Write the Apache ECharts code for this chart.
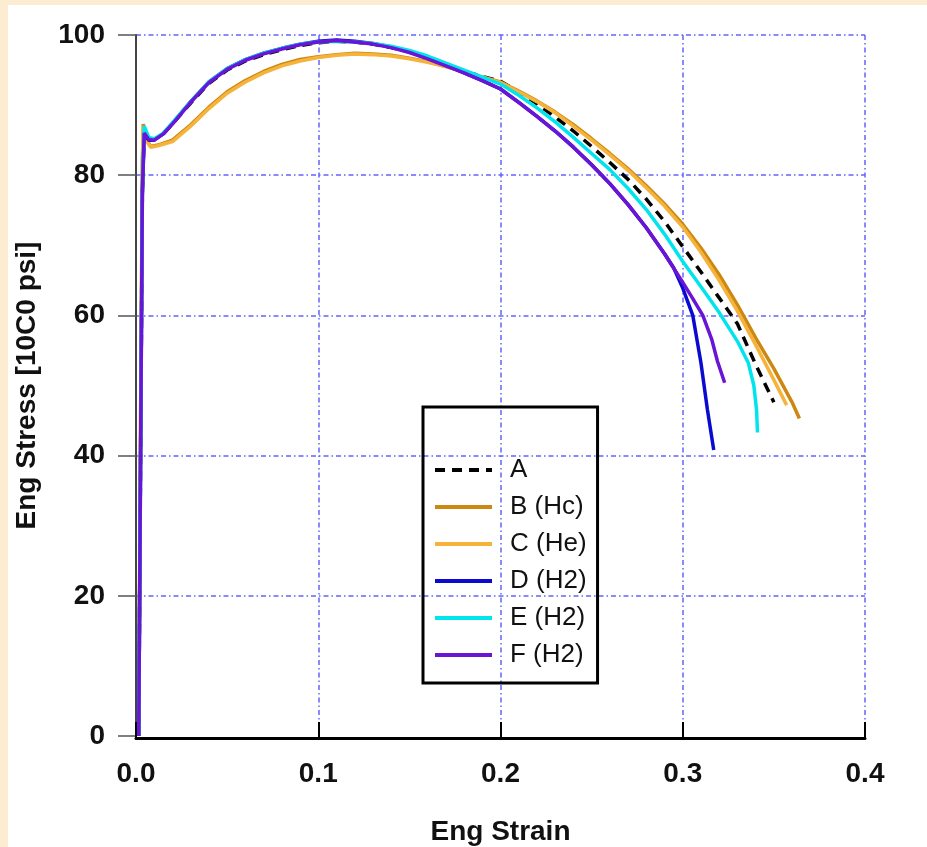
<!DOCTYPE html>
<html>
<head>
<meta charset="utf-8">
<script src="https://cdn.jsdelivr.net/npm/echarts@6/dist/echarts.min.js"></script>
<style>
  html, body { margin: 0; padding: 0; background: #fcecd2; }
  #chart { position: absolute; left: 8px; top: 5px; width: 919px; height: 842px; background: #fff; }
</style>
</head>
<body>
<div id="chart"></div>
<script>
// tick labels / axis range
const xTicks = [0, 0.1, 0.2, 0.3, 0.4];
const yTicks = [0, 20, 40, 60, 80, 100];
const seriesNames = ["A", "B (Hc)", "C (He)", "D (H2)", "E (H2)", "F (H2)"];

// A - dashed black
const strainA = [0.0015, 0.0025, 0.0035, 0.0045, 0.007, 0.010, 0.015, 0.020, 0.030, 0.040, 0.050, 0.060, 0.070, 0.080, 0.090, 0.100, 0.110, 0.120, 0.130, 0.140, 0.150, 0.160, 0.170, 0.180, 0.190, 0.200, 0.210, 0.220, 0.230, 0.240, 0.250, 0.260, 0.270, 0.280, 0.290, 0.300, 0.310, 0.320, 0.330, 0.340, 0.345, 0.350];
const stressA = [0, 40, 78, 86.2, 85.2, 85.1, 85.9, 87.3, 90.3, 93.1, 95.0, 96.3, 97.2, 97.9, 98.5, 98.9, 99.1, 99.0, 98.7, 98.2, 97.6, 96.7, 95.7, 94.8, 94.1, 93.4, 91.9, 90.2, 88.3, 86.3, 84.1, 81.8, 79.4, 76.6, 73.4, 69.8, 66.2, 62.5, 58.8, 53.0, 50.3, 47.6];

// B (Hc) - dark orange
const strainB = [0.0015, 0.0025, 0.0035, 0.004, 0.006, 0.008, 0.012, 0.020, 0.030, 0.040, 0.050, 0.060, 0.070, 0.080, 0.090, 0.100, 0.110, 0.120, 0.130, 0.140, 0.150, 0.160, 0.170, 0.180, 0.190, 0.200, 0.210, 0.220, 0.230, 0.240, 0.250, 0.260, 0.270, 0.280, 0.290, 0.300, 0.310, 0.320, 0.330, 0.340, 0.350, 0.360, 0.364];
const stressB = [0, 45, 82, 87.3, 85.0, 84.1, 84.3, 85.0, 87.2, 89.7, 91.9, 93.5, 94.8, 95.8, 96.5, 96.9, 97.2, 97.4, 97.3, 97.1, 96.7, 96.2, 95.5, 94.8, 94.0, 93.3, 92.0, 90.6, 89.0, 87.2, 85.2, 83.1, 80.9, 78.5, 75.9, 73.0, 69.6, 65.8, 61.5, 56.8, 52.4, 47.6, 45.3];

// C (He) - light orange
const strainC = [0.0015, 0.0025, 0.0035, 0.004, 0.006, 0.008, 0.012, 0.020, 0.030, 0.040, 0.050, 0.060, 0.070, 0.080, 0.090, 0.100, 0.110, 0.120, 0.130, 0.140, 0.150, 0.160, 0.170, 0.180, 0.190, 0.200, 0.210, 0.220, 0.230, 0.240, 0.250, 0.260, 0.270, 0.280, 0.290, 0.300, 0.310, 0.320, 0.330, 0.340, 0.350, 0.357];
const stressC = [0, 44, 81, 87.0, 84.8, 84.0, 84.2, 84.8, 87.0, 89.5, 91.7, 93.3, 94.6, 95.6, 96.3, 96.8, 97.1, 97.3, 97.2, 97.0, 96.6, 96.1, 95.5, 94.8, 94.0, 93.2, 91.9, 90.5, 88.9, 87.0, 85.0, 82.9, 80.7, 78.2, 75.6, 72.6, 69.0, 65.0, 60.6, 55.8, 50.8, 47.2];

// D (H2) - blue
const strainD = [0.0015, 0.0025, 0.0035, 0.0045, 0.007, 0.010, 0.015, 0.020, 0.030, 0.040, 0.050, 0.060, 0.070, 0.080, 0.090, 0.100, 0.110, 0.120, 0.130, 0.140, 0.150, 0.160, 0.170, 0.180, 0.190, 0.200, 0.210, 0.220, 0.230, 0.240, 0.250, 0.260, 0.270, 0.280, 0.290, 0.295, 0.300, 0.3055, 0.310, 0.3135, 0.317];
const stressD = [0, 38, 77, 85.8, 85.0, 85.0, 85.9, 87.4, 90.5, 93.3, 95.2, 96.5, 97.4, 98.1, 98.7, 99.1, 99.3, 99.1, 98.8, 98.3, 97.6, 96.7, 95.7, 94.6, 93.5, 92.3, 90.4, 88.4, 86.3, 84.0, 81.5, 78.8, 75.8, 72.5, 68.8, 66.8, 63.9, 60.0, 53.2, 46.6, 40.8];

// E (H2) - cyan
const strainE = [0.0015, 0.0025, 0.0035, 0.0045, 0.007, 0.010, 0.015, 0.020, 0.030, 0.040, 0.050, 0.060, 0.070, 0.080, 0.090, 0.100, 0.110, 0.120, 0.130, 0.140, 0.150, 0.160, 0.170, 0.180, 0.190, 0.200, 0.210, 0.220, 0.230, 0.240, 0.250, 0.260, 0.270, 0.280, 0.290, 0.300, 0.310, 0.320, 0.330, 0.336, 0.339, 0.3405, 0.341];
const stressE = [0, 40, 79, 87.0, 85.4, 85.2, 86.0, 87.5, 90.5, 93.3, 95.2, 96.5, 97.4, 98.1, 98.7, 99.0, 99.1, 99.0, 98.8, 98.4, 97.8, 97.0, 96.0, 95.0, 94.0, 93.0, 91.4, 89.6, 87.6, 85.4, 83.1, 80.8, 78.1, 75.1, 71.6, 67.7, 64.1, 60.4, 56.3, 53.2, 50.0, 46.5, 43.3];

// F (H2) - purple
const strainF = [0.0015, 0.0025, 0.0035, 0.0045, 0.007, 0.010, 0.015, 0.020, 0.030, 0.040, 0.050, 0.060, 0.070, 0.080, 0.090, 0.100, 0.110, 0.120, 0.130, 0.140, 0.150, 0.160, 0.170, 0.180, 0.190, 0.200, 0.210, 0.220, 0.230, 0.240, 0.250, 0.260, 0.270, 0.280, 0.290, 0.300, 0.305, 0.311, 0.316, 0.319, 0.323];
const stressF = [0, 40, 78, 86.0, 85.1, 85.0, 85.9, 87.3, 90.4, 93.2, 95.1, 96.4, 97.3, 98.0, 98.6, 99.0, 99.2, 99.0, 98.7, 98.2, 97.5, 96.6, 95.6, 94.6, 93.5, 92.3, 90.4, 88.4, 86.3, 84.0, 81.5, 78.8, 75.8, 72.5, 68.8, 64.7, 62.6, 60.0, 56.5, 53.5, 50.4];

const colors = ["#000000", "#cc8810", "#f6b33c", "#0a0ad0", "#00e4ee", "#6a14d6"];

const zip = (xs, ys) => xs.map((x, i) => [x, ys[i]]);
const curves = [
  zip(strainA, stressA),
  zip(strainB, stressB),
  zip(strainC, stressC),
  zip(strainD, stressD),
  zip(strainE, stressE),
  zip(strainF, stressF),
];

const chart = echarts.init(document.getElementById("chart"));
const font = "Liberation Sans, Arial, sans-serif";
const gridLine = { color: "#6464ff", width: 1.5, type: [5, 3, 1.5, 3] };

const option = {
  animation: false,
  backgroundColor: "#ffffff",
  grid: { left: 128, right: 62, top: 30, bottom: 111, outerBoundsMode: "none", containLabel: false },
  legend: {
    orient: "vertical",
    left: 415,
    top: 402,
    padding: [50, 11, 15, 10],
    borderColor: "#000",
    borderWidth: 3,
    itemWidth: 57,
    itemHeight: 26,
    itemGap: 11,
    itemStyle: { opacity: 0 },
    lineStyle: { width: 4 },
    textStyle: { fontFamily: font, fontSize: 26, color: "#111", padding: [0, 0, 0, 13] },
    data: seriesNames,
  },
  xAxis: {
    type: "value",
    min: xTicks[0],
    max: xTicks[xTicks.length - 1],
    interval: 0.1,
    offset: 2,
    name: "Eng Strain",
    nameLocation: "middle",
    nameGap: 80,
    nameTextStyle: { fontFamily: font, fontSize: 28, fontWeight: "bold", color: "#111" },
    axisLine: { onZero: false, lineStyle: { color: "#000", width: 3 } },
    axisTick: { inside: true, length: 16, lineStyle: { color: "#000", width: 2 } },
    axisLabel: {
      margin: 22,
      fontFamily: font, fontSize: 28, fontWeight: "bold", color: "#111",
      formatter: (v) => v.toFixed(1),
    },
    splitLine: { show: true, showMinLine: false, lineStyle: gridLine },
  },
  yAxis: {
    type: "value",
    min: yTicks[0],
    max: yTicks[yTicks.length - 1],
    interval: 20,
    offset: 1,
    name: "Eng Stress [10C0 psi]",
    nameLocation: "middle",
    nameGap: 94,
    nameTextStyle: { fontFamily: font, fontSize: 28, fontWeight: "bold", color: "#111" },
    axisLine: { lineStyle: { color: "#444", width: 2 } },
    axisTick: { length: 18, lineStyle: { color: "#555", width: 1.5 } },
    axisLabel: { margin: 30, fontFamily: font, fontSize: 28, fontWeight: "bold", color: "#111" },
    splitLine: { show: true, showMinLine: false, lineStyle: gridLine },
  },
  series: curves.map((d, i) => ({
    name: seriesNames[i],
    type: "line",
    data: d,
    symbol: "none",
    silent: true,
    z: 2 + i,
    itemStyle: { color: colors[i] },
    lineStyle: {
      color: colors[i],
      width: 3.5,
      type: i === 0 ? [10, 7] : "solid",
    },
  })),
};

chart.setOption(option);
</script>
</body>
</html>
